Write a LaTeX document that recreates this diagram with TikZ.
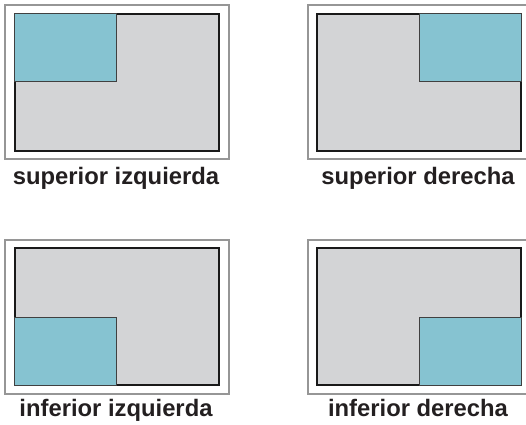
\documentclass[tikz,border=0pt]{standalone}
\usepackage{fontspec}
\setmainfont{Liberation Sans}
\usepackage{tikz}
\usetikzlibrary{positioning}
\definecolor{framegray}{RGB}{150,150,150}
\definecolor{screengray}{RGB}{211,212,214}
\definecolor{winblue}{RGB}{134,195,209}
\definecolor{darktext}{RGB}{35,31,32}
\tikzset{
  marco/.style={draw=framegray,line width=1.6pt,fill=white,inner sep=0pt,
    minimum width=224pt,minimum height=154pt,anchor=north west},
  pantalla/.style={draw=black!90,line width=2pt,fill=screengray,inner sep=0pt,
    minimum width=204pt,minimum height=137pt,anchor=north west},
  ventana/.style={draw=black!75,line width=1.4pt,fill=winblue,inner sep=0pt,
    minimum width=102pt,minimum height=68pt},
  rotulo/.style={font=\fontsize{23.8}{28}\selectfont\bfseries,text=darktext,
    inner sep=0pt,anchor=base},
}

\begin{document}
\begin{tikzpicture}[x=1pt,y=-1pt]
\useasboundingbox (0,0) rectangle (526,424);
\clip (0,0) rectangle (526,424);
% superior izquierda
\node[marco](marcoSI) at(4,4){};
\node[pantalla](pantSI) at(14,13){};
\node[ventana,anchor=north west](ventSI) at(pantSI.north west){};
\node[rotulo](rotSI) at(116,184){superior izquierda};
% superior derecha
\node[marco](marcoSD) at(307,4){};
\node[pantalla](pantSD) at(316,13){};
\node[ventana,anchor=north east](ventSD) at(pantSD.north east){};
\node[rotulo](rotSD) at(418,184){superior derecha};
% inferior izquierda
\node[marco](marcoII) at(4,239){};
\node[pantalla](pantII) at(14,247){};
\node[ventana,anchor=south west](ventII) at(pantII.south west){};
\node[rotulo](rotII) at(116,416){inferior izquierda};
% inferior derecha
\node[marco](marcoID) at(307,239){};
\node[pantalla](pantID) at(316,247){};
\node[ventana,anchor=south east](ventID) at(pantID.south east){};
\node[rotulo](rotID) at(418,416){inferior derecha};
\end{tikzpicture}
\end{document}
